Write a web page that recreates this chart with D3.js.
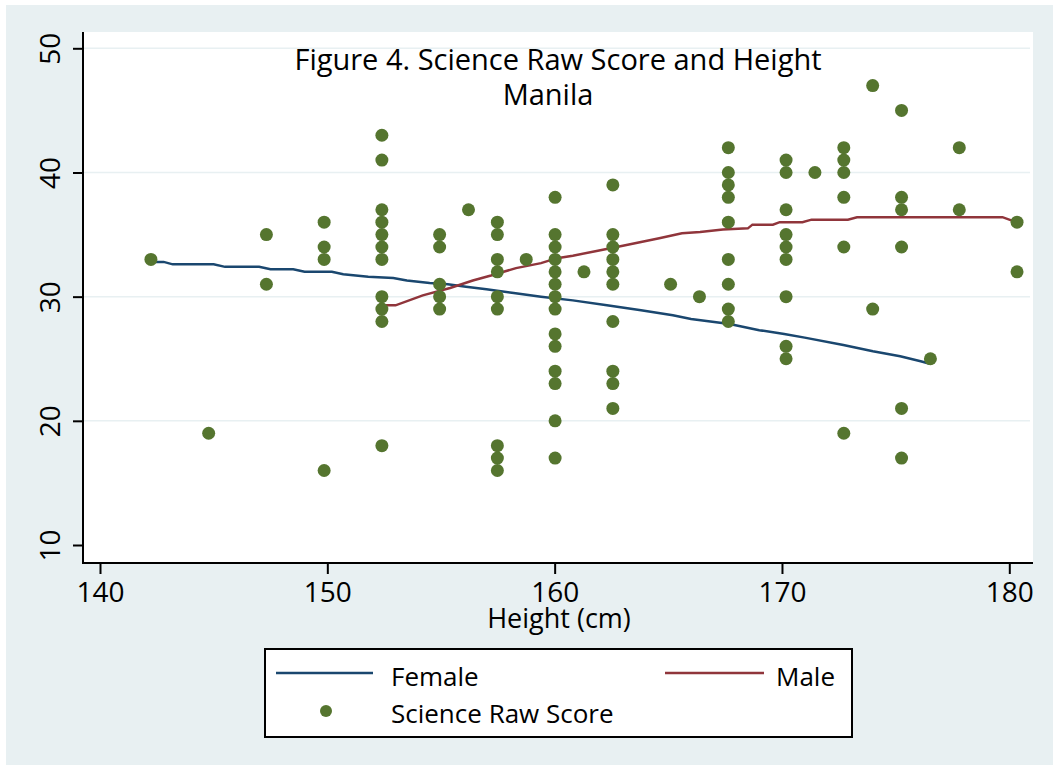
<!DOCTYPE html>
<html>
<head>
<meta charset="utf-8">
<script src="https://cdn.jsdelivr.net/npm/d3@7"></script>
<style>
  body { margin: 0; background: #fff; }
  text { font-family: "Open Sans", "DejaVu Sans", sans-serif; fill: #000; }
</style>
</head>
<body>
<script>
// heights (cm) where scores were recorded, and the scores at each height
const heights = [142.24, 144.78, 147.32, 149.86, 152.4, 154.94, 156.21, 157.48, 158.75,
  160.02, 161.29, 162.56, 165.1, 166.37, 167.64, 170.18, 171.45, 172.72, 173.99,
  175.26, 176.53, 177.8, 180.34];
const scoresByHeight = [
  [33], [19], [35, 31], [36, 34, 33, 16],
  [43, 41, 37, 36, 35, 34, 33, 30, 29, 28, 18],
  [35, 34, 31, 30, 29], [37],
  [36, 35, 33, 32, 30, 29, 18, 17, 16], [33],
  [38, 35, 34, 33, 32, 31, 30, 29, 27, 26, 24, 23, 20, 17], [32],
  [39, 35, 34, 33, 32, 31, 28, 24, 23, 21], [31], [30],
  [42, 40, 39, 38, 36, 33, 31, 29, 28],
  [41, 40, 37, 35, 34, 33, 30, 26, 25], [40],
  [42, 41, 40, 38, 34, 19], [47, 29],
  [45, 38, 37, 34, 21, 17], [25], [42, 37], [36, 32]
];

// fitted lines (height, fitted score)
const femaleFit = [[142.2,32.8],[142.8,32.8],[143.2,32.6],[145.0,32.6],[145.5,32.4],[147.0,32.4],
  [147.5,32.2],[148.5,32.2],[149.0,32.0],[150.2,32.0],[150.7,31.8],[151.8,31.6],[152.9,31.5],
  [153.5,31.3],[154.5,31.1],[155.3,31.0],[156.1,30.8],[157.0,30.6],[158.2,30.3],[159.4,30.0],
  [160.8,29.7],[162.3,29.3],[163.8,28.9],[165.2,28.5],[166.0,28.2],[167.7,27.8],[169.0,27.3],
  [170.1,27.0],[171.0,26.7],[172.7,26.1],[174.0,25.6],[175.2,25.2],[176.1,24.8],[176.5,24.6]];
const maleFit = [[152.4,29.3],[153.0,29.3],[154.2,30.1],[155.4,30.7],[156.4,31.3],[157.2,31.7],
  [158.3,32.3],[159.4,32.7],[160.1,33.1],[160.8,33.3],[161.9,33.7],[163.0,34.1],[163.8,34.4],
  [164.6,34.7],[165.6,35.1],[166.4,35.2],[167.4,35.4],[168.5,35.5],[168.7,35.8],[169.6,35.8],
  [169.9,36.0],[170.9,36.0],[171.3,36.2],[172.9,36.2],[173.3,36.4],[179.7,36.4],[180.3,36.0]];

const xTicks = [140, 150, 160, 170, 180];
const yTicks = [10, 20, 30, 40, 50];
const gridTicks = [20, 30, 40, 50];

const width = 1053, height = 769;
const plot = { left: 83, top: 32, right: 1033, bottom: 563 };

const colors = { bg: "#e8f0f2", female: "#1a476f", male: "#90353b", dot: "#55752f" };

const x = d3.scaleLinear().domain([140, 180]).range([100, 1009.3]);
const y = d3.scaleLinear().domain([10, 50]).range([545, 48.3]);

const svg = d3.select("body").append("svg")
  .attr("width", width)
  .attr("height", height);

svg.append("rect")
  .attr("x", 6).attr("y", 5)
  .attr("width", width - 6).attr("height", 760)
  .attr("fill", colors.bg);

svg.append("rect")
  .attr("x", plot.left).attr("y", plot.top)
  .attr("width", plot.right - plot.left).attr("height", plot.bottom - plot.top)
  .attr("fill", "#fff");

// grid
svg.append("g").selectAll("line")
  .data(gridTicks)
  .enter().append("line")
  .attr("x1", plot.left).attr("x2", plot.right - 3)
  .attr("y1", d => y(d)).attr("y2", d => y(d))
  .attr("stroke", colors.bg)
  .attr("stroke-width", 1.5);

// axes
const xAxis = svg.append("g")
  .attr("transform", `translate(0,${plot.bottom})`)
  .call(d3.axisBottom(x).tickValues(xTicks).tickSize(11).tickPadding(8));
const yAxis = svg.append("g")
  .attr("transform", `translate(${plot.left},0)`)
  .call(d3.axisLeft(y).tickValues(yTicks).tickSize(10).tickFormat(d3.format("d")));

[xAxis, yAxis].forEach(g => {
  g.select(".domain").remove();
  g.selectAll(".tick line").attr("stroke", "#000").attr("stroke-width", 2);
});
xAxis.selectAll(".tick text")
  .attr("font-size", 28)
  .attr("font-family", "'Open Sans', sans-serif")
  .attr("fill", "#000");
yAxis.selectAll(".tick text")
  .attr("font-size", 28)
  .attr("font-family", "'Open Sans', sans-serif")
  .attr("fill", "#000")
  .attr("text-anchor", "middle")
  .attr("dy", 0)
  .attr("transform", "translate(-23,0) rotate(-90)")
  .attr("x", 0).attr("y", 0);

svg.append("line")
  .attr("x1", plot.left).attr("x2", plot.left)
  .attr("y1", plot.top).attr("y2", plot.bottom + 1)
  .attr("stroke", "#000").attr("stroke-width", 2);
svg.append("line")
  .attr("x1", plot.left - 1).attr("x2", plot.right)
  .attr("y1", plot.bottom).attr("y2", plot.bottom)
  .attr("stroke", "#000").attr("stroke-width", 2);

// fitted lines
const line = d3.line().x(d => x(d[0])).y(d => y(d[1]));
svg.append("path").datum(femaleFit)
  .attr("d", line).attr("fill", "none")
  .attr("stroke", colors.female).attr("stroke-width", 2.5);
svg.append("path").datum(maleFit)
  .attr("d", line).attr("fill", "none")
  .attr("stroke", colors.male).attr("stroke-width", 2.5);

// points
const points = heights.flatMap((h, i) => scoresByHeight[i].map(s => ({ h, s })));
svg.append("g").selectAll("circle")
  .data(points)
  .enter().append("circle")
  .attr("cx", d => x(d.h))
  .attr("cy", d => y(d.s))
  .attr("r", 6.5)
  .attr("fill", colors.dot);

// titles
svg.append("text")
  .attr("x", 558).attr("y", 70)
  .attr("text-anchor", "middle").attr("font-size", 29)
  .text("Figure 4. Science Raw Score and Height");
svg.append("text")
  .attr("x", 548).attr("y", 105)
  .attr("text-anchor", "middle").attr("font-size", 29)
  .text("Manila");
svg.append("text")
  .attr("x", 559).attr("y", 628)
  .attr("text-anchor", "middle").attr("font-size", 27)
  .text("Height (cm)");

// legend
const legend = svg.append("g");
legend.append("rect")
  .attr("x", 265).attr("y", 649)
  .attr("width", 587).attr("height", 88)
  .attr("fill", "#fff").attr("stroke", "#000").attr("stroke-width", 2);
legend.append("line")
  .attr("x1", 276).attr("x2", 373).attr("y1", 673).attr("y2", 673)
  .attr("stroke", colors.female).attr("stroke-width", 2.5);
legend.append("line")
  .attr("x1", 665).attr("x2", 764).attr("y1", 673).attr("y2", 673)
  .attr("stroke", colors.male).attr("stroke-width", 2.5);
legend.append("circle")
  .attr("cx", 326).attr("cy", 711).attr("r", 6)
  .attr("fill", colors.dot);
legend.append("text").attr("x", 391).attr("y", 686).attr("font-size", 26).text("Female");
legend.append("text").attr("x", 835).attr("y", 686).attr("text-anchor", "end").attr("font-size", 26).text("Male");
legend.append("text").attr("x", 391).attr("y", 723).attr("font-size", 26).text("Science Raw Score");
</script>
</body>
</html>
